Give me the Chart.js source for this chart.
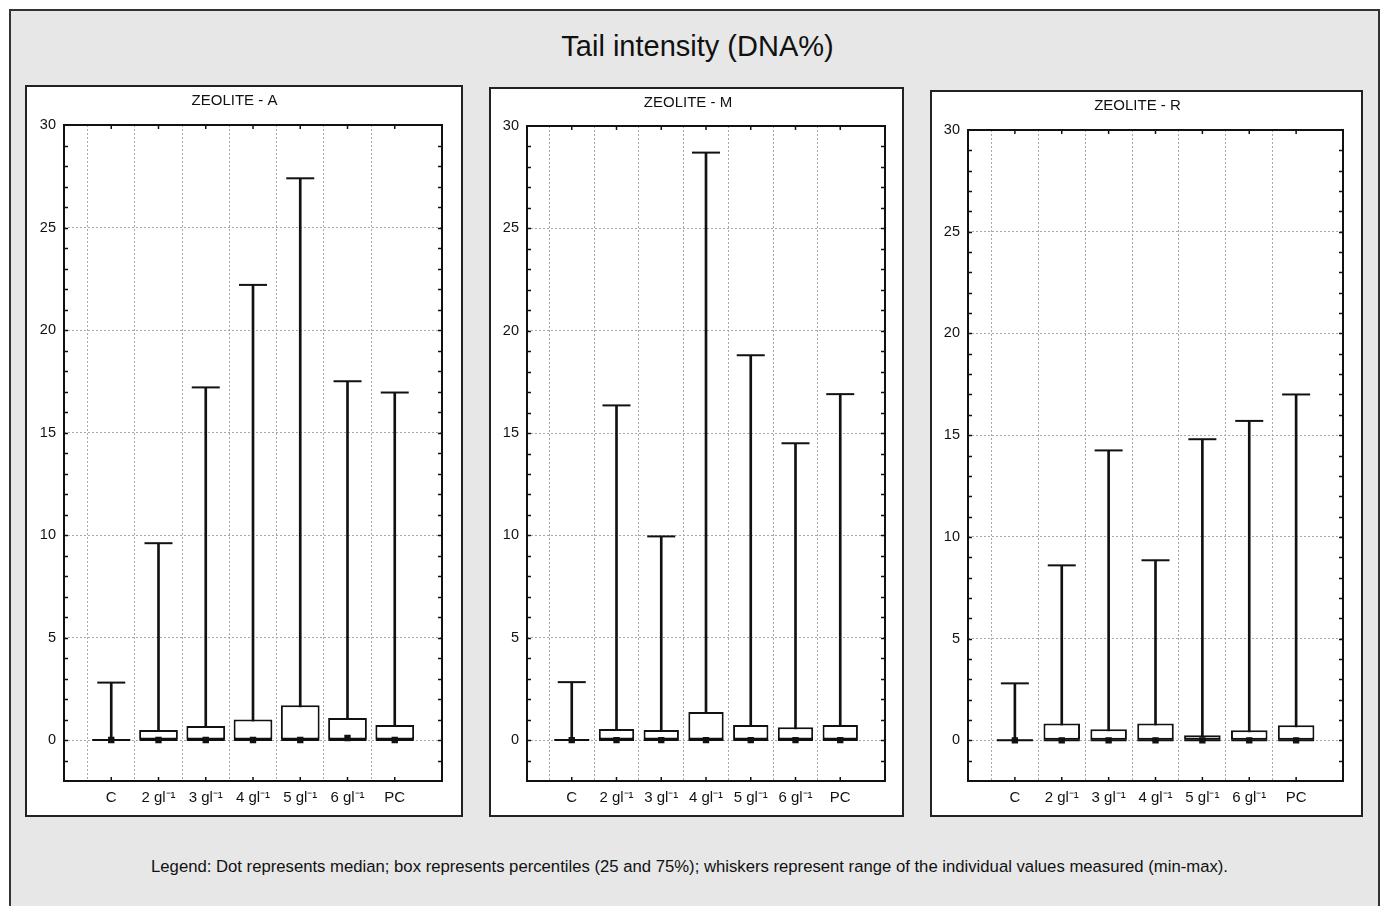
<!DOCTYPE html>
<html>
<head>
<meta charset="utf-8">
<script src="https://cdn.jsdelivr.net/npm/chart.js@4"></script>
<style>
  body { margin: 0; background: #fff; width: 1383px; height: 906px; overflow: hidden; position: relative;
         font-family: Arial, "Liberation Sans", sans-serif; color: #111; }
  #frame { position: absolute; left: 9px; top: 9px; width: 1371px; height: 920px; box-sizing: border-box;
           border: 2px solid #333; background: #e7e7e7; }
  .panel { position: absolute; box-sizing: border-box; border: 2px solid #222; background: #fff; }
  .panel canvas { position: absolute; left: 0; top: 0; }
  #title { position: absolute; left: 0; width: 1395px; top: 30px; text-align: center; font-size: 29px; }
  #note { position: absolute; left: 0; width: 1379px; top: 857px; text-align: center; font-size: 16.7px; }
</style>
</head>
<body>
<div id="frame"></div>
<div id="title">Tail intensity (DNA%)</div>
<div class="panel" style="left:25px;top:85px;width:438px;height:732px"><canvas id="chartA" width="434" height="728"></canvas></div>
<div class="panel" style="left:489px;top:87px;width:415px;height:730px"><canvas id="chartM" width="411" height="726"></canvas></div>
<div class="panel" style="left:930px;top:90px;width:433px;height:727px"><canvas id="chartR" width="429" height="723"></canvas></div>
<div id="note">Legend: Dot represents median; box represents percentiles (25 and 75%); whiskers represent range of the individual values measured (min-max).</div>

<script>
// --- Data ---
const categories = ["C", "2 gl\u207B\u00B9", "3 gl\u207B\u00B9", "4 gl\u207B\u00B9", "5 gl\u207B\u00B9", "6 gl\u207B\u00B9", "PC"];

const minA = [0, 0, 0, 0, 0, 0, 0];
const q1A  = [0, 0, 0, 0, 0, 0, 0];
const medA = [0, 0, 0, 0, 0, 0.1, 0];
const q3A  = [0.05, 0.49, 0.68, 1.0, 1.7, 1.07, 0.73];
const maxA = [2.8, 9.6, 17.2, 22.2, 27.4, 17.5, 16.95];

const minM = [0, 0, 0, 0, 0, 0, 0];
const q1M  = [0, 0, 0, 0, 0, 0, 0];
const medM = [0, 0, 0, 0, 0, 0, 0];
const q3M  = [0.05, 0.54, 0.49, 1.37, 0.73, 0.63, 0.73];
const maxM = [2.83, 16.35, 9.95, 28.7, 18.8, 14.5, 16.9];

const minR = [0, 0, 0, 0, 0, 0, 0];
const q1R  = [0, 0, 0, 0, 0, 0, 0];
const medR = [0, 0, 0, 0, 0, 0, 0];
const q3R  = [0.05, 0.83, 0.54, 0.83, 0.25, 0.49, 0.74];
const maxR = [2.8, 8.6, 14.25, 8.85, 14.8, 15.7, 17.0];

const yMin = -2, yMax = 30;

// empty slots at both ends so the categories sit at 1..7 on a 0..8 axis
const labels = ["", ...categories, ""];
const pad = arr => [null, ...arr, null];
const FONT = "Arial, 'Liberation Sans', sans-serif";

// --- plot frame with inward tick marks ---
const framePlugin = {
  id: "frame",
  afterDatasetsDraw(chart) {
    const { ctx, chartArea: a, scales: { x, y } } = chart;
    ctx.save();
    ctx.strokeStyle = "#111";
    ctx.lineWidth = 1.5;
    ctx.beginPath();
    for (let v = yMin + 1; v < yMax; v++) {
      const py = Math.round(y.getPixelForValue(v)) + 0.5;
      ctx.moveTo(a.left, py); ctx.lineTo(a.left + 4, py);
      ctx.moveTo(a.right, py); ctx.lineTo(a.right - 4, py);
    }
    for (let i = 1; i <= categories.length; i++) {
      const px = x.getPixelForValue(i);
      ctx.moveTo(px, a.top); ctx.lineTo(px, a.top + 4);
      ctx.moveTo(px, a.bottom); ctx.lineTo(px, a.bottom - 4);
    }
    ctx.stroke();
    ctx.lineWidth = 2;
    ctx.strokeRect(a.left, a.top, a.right - a.left, a.bottom - a.top);
    ctx.restore();
  }
};

function makePanel(id, title, mins, q1s, meds, q3s, maxs, gaps) {
  const boxes = q1s.map((q, i) => [q, q3s[i]]);
  const whiskers = mins.map((m, i) => [m, maxs[i]]);
  new Chart(document.getElementById(id), {
    data: {
      labels,
      datasets: [
        { type: "bar", data: pad(whiskers), backgroundColor: "#111", borderWidth: 0,
          barThickness: 2, grouped: false, order: 4 },
        { type: "line", data: pad(mins), showLine: false, pointStyle: "line", pointRadius: gaps.minCap,
          pointBorderWidth: 2, borderColor: "#111", order: 3 },
        { type: "bar", data: pad(boxes), backgroundColor: "#fff", borderColor: "#111", borderWidth: 2,
          borderSkipped: false, barPercentage: gaps.bar, categoryPercentage: 1, grouped: false, order: 2 },
        { type: "line", data: pad(maxs), showLine: false, pointStyle: "line", pointRadius: 14,
          pointBorderWidth: 2, borderColor: "#111", order: 1 },
        { type: "line", data: pad(meds), showLine: false, pointStyle: "rect", pointRadius: 4.5,
          pointBorderWidth: 0, backgroundColor: "#111", borderColor: "#111", order: 0 }
      ]
    },
    options: {
      responsive: false,
      animation: false,
      layout: { autoPadding: false, padding: { right: gaps.right, left: 0, top: 0, bottom: 0 } },
      plugins: {
        legend: { display: false },
        tooltip: { enabled: false },
        title: { display: true, text: title, color: "#111",
                 font: { family: FONT, size: 15, weight: "normal" },
                 padding: { top: 5, bottom: gaps.top - 5 - 18 } }
      },
      scales: {
        x: {
          offset: false,
          grid: { drawTicks: false, lineWidth: 1,
                  color: c => (c.index > 0 && c.index < labels.length - 1) ? "#a8a8a8" : "rgba(0,0,0,0)" },
          border: { display: false, dash: [2, 2] },
          ticks: { autoSkip: false, maxRotation: 0, padding: 8, color: "#111",
                   font: { family: FONT, size: 15 } },
          afterFit: s => { s.height = gaps.bottom; }
        },
        y: {
          min: yMin, max: yMax,
          grid: { drawTicks: false, lineWidth: 1,
                  color: c => (c.tick && c.tick.value % 5 === 0 && c.tick.value > yMin && c.tick.value < yMax) ? "#a8a8a8" : "rgba(0,0,0,0)" },
          border: { display: false, dash: [2, 2] },
          ticks: { stepSize: 1, autoSkip: false, padding: 8, color: "#111",
                   font: { family: FONT, size: 14.5 },
                   callback: v => (v % 5 === 0 ? String(v) : "") },
          afterFit: s => { s.width = gaps.left; }
        }
      }
    },
    plugins: [framePlugin]
  });
}

makePanel("chartA", "ZEOLITE - A", minA, q1A, medA, q3A, maxA, { left: 37, right: 19, top: 38, bottom: 34, bar: 0.82, minCap: 19 });
makePanel("chartM", "ZEOLITE - M", minM, q1M, medM, q3M, maxM, { left: 36, right: 17, top: 37, bottom: 34, bar: 0.79, minCap: 17.5 });
makePanel("chartR", "ZEOLITE - R", minR, q1R, medR, q3R, maxR, { left: 36, right: 18, top: 38, bottom: 34, bar: 0.78, minCap: 18 });
</script>
</body>
</html>
